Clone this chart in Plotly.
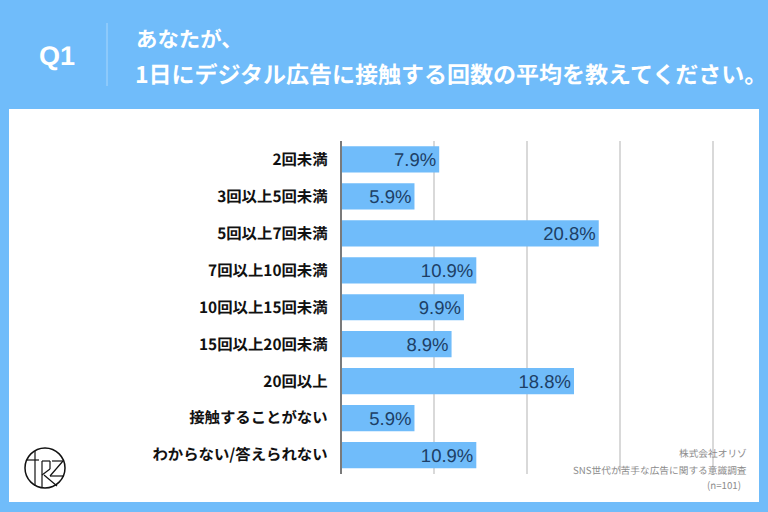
import plotly.graph_objects as go

categories = ["2回未満", "3回以上5回未満", "5回以上7回未満", "7回以上10回未満", "10回以上15回未満",
              "15回以上20回未満", "20回以上", "接触することがない", "わからない/答えられない"]
values = [7.9, 5.9, 20.8, 10.9, 9.9, 8.9, 18.8, 5.9, 10.9]

W = 768
H = 512
BLUE = "#70bcfa"
JP = "Noto Sans CJK JP"
LATIN = "Liberation Sans, " + JP


def px(x):
    return x / W


def py(y):
    return 1 - y / H


fig = go.Figure()
fig.add_trace(go.Bar(x=values, y=categories, orientation="h", width=0.71,
                     marker=dict(color=BLUE, line_width=0),
                     texttemplate="%{x:.1f}%", textposition="inside", insidetextanchor="end",
                     constraintext="none", cliponaxis=False,
                     textfont=dict(family=LATIN, size=18.5, color="#1d3f66")))

shapes = [
    # white panel and the header rule
    dict(type="rect", xref="paper", yref="paper", x0=px(9), x1=px(759), y0=py(502), y1=py(109),
         fillcolor="white", line_width=0, layer="below"),
    dict(type="line", xref="paper", yref="paper", x0=px(107), x1=px(107), y0=py(86), y1=py(23),
         line=dict(color="#a9d7fc", width=1)),
    # logo
    dict(type="circle", xref="paper", yref="paper", x0=px(25), x1=px(65), y0=py(488), y1=py(448),
         line=dict(color="#111111", width=1.5)),
]
logo_lines = [(27, 460, 39, 460), (35, 451, 35, 486), (42, 461, 42, 487), (42, 461, 50, 461),
              (50, 461, 50, 469), (42, 475, 50, 469), (44, 475, 57, 486), (52, 461, 63, 461),
              (63, 461, 50, 476), (50, 476, 64, 476)]
for x0, y0, x1, y1 in logo_lines:
    shapes.append(dict(type="line", xref="paper", yref="paper", x0=px(x0), x1=px(x1), y0=py(y0), y1=py(y1),
                       line=dict(color="#111111", width=1.2)))

annotations = [
    dict(text="Q1", x=px(57), y=py(56), font=dict(size=27, color="white", weight=700, family=LATIN), xanchor="center"),
    dict(text="あなたが、", x=px(134), y=py(37), font=dict(size=21.4, color="white", weight=700, family=JP), xanchor="left"),
    dict(text="1日にデジタル広告に接触する回数の平均を教えてください。", x=px(133), y=py(73),
         font=dict(size=23, color="white", weight=700, family=JP), xanchor="left"),
    dict(text="株式会社オリゾ", x=px(749), y=py(453), font=dict(size=9.7, color="#8c8c8c", family=JP), xanchor="right"),
    dict(text="SNS世代が苦手な広告に関する意識調査", x=px(749), y=py(470), font=dict(size=9.7, color="#8c8c8c", family=JP), xanchor="right"),
    dict(text="(n=101)", x=px(743), y=py(485), font=dict(size=9.7, color="#8c8c8c", family=JP), xanchor="right"),
]
for a in annotations:
    a.update(xref="paper", yref="paper", showarrow=False, yanchor="middle")

fig.update_layout(
    width=W, height=H, margin=dict(l=0, r=0, t=0, b=0),
    paper_bgcolor=BLUE, plot_bgcolor="rgba(0,0,0,0)", showlegend=False,
    shapes=shapes, annotations=annotations,
    xaxis=dict(domain=[px(341.5), px(715)], range=[0, 30.2], dtick=7.5, showticklabels=False,
               showgrid=True, gridcolor="#d9d9d9", gridwidth=1.5, zeroline=False, ticks=""),
    yaxis=dict(domain=[py(473.5), py(141)], autorange="reversed", showline=True, linecolor="#7a7a7a", linewidth=1.5,
               ticks="", ticklabelstandoff=9,
               tickfont=dict(family=JP, size=15.4, color="#111111", weight=700)),
)

# fractional glyph advances, the hinted ones jump a whole pixel per character
fig.write_html("out.html", config=dict(displayModeBar=False),
               post_script="document.body.style.margin='0';document.body.style.overflow='hidden';"
                           "document.head.insertAdjacentHTML('beforeend','<style>text{text-rendering:geometricPrecision}</style>');")
